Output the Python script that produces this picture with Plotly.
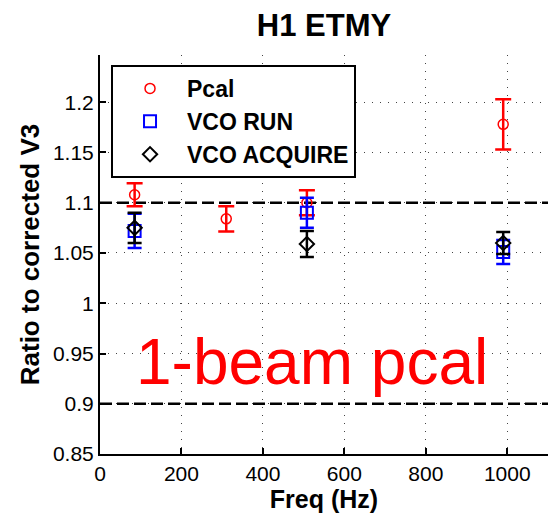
import plotly.graph_objects as go

# Data
freq_pcal = [85, 310, 508, 990]
pcal = [1.108, 1.084, 1.100, 1.178]
pcal_err = [0.0115, 0.0125, 0.0125, 0.025]

freq_vco = [85, 508, 990]
vco_run = [1.072, 1.090, 1.051]
vco_run_err = [0.017, 0.015, 0.012]

vco_acq = [1.075, 1.059, 1.060]
vco_acq_err = [0.015, 0.013, 0.011]

ref_x = [0, 1100]
ref_hi = [1.1, 1.1]
ref_lo = [0.9, 0.9]

x_ticks = [0, 200, 400, 600, 800, 1000]
y_ticks = [0.85, 0.9, 0.95, 1.0, 1.05, 1.1, 1.15, 1.2]
y_ticklabels = ["0.85", "0.9", "0.95", "1", "1.05", "1.1", "1.15", "1.2"]

FONT = "Liberation Sans, Arial, Helvetica, sans-serif"

fig = go.Figure()

for yy in (ref_hi, ref_lo):
    fig.add_trace(go.Scatter(x=ref_x, y=yy, mode="lines", showlegend=False,
                             line=dict(color="black", width=2.5, dash="12px,5px"),
                             hoverinfo="skip"))

fig.add_trace(go.Scatter(
    x=freq_pcal, y=pcal, mode="markers", name="Pcal",
    marker=dict(symbol="circle-open", size=10, color="red", line=dict(width=1.5, color="red")),
    error_y=dict(type="data", array=pcal_err, color="red", thickness=2.5, width=8)))

fig.add_trace(go.Scatter(
    x=freq_vco, y=vco_run, mode="markers", name="VCO RUN",
    marker=dict(symbol="square-open", size=12, color="blue", line=dict(width=2, color="blue")),
    error_y=dict(type="data", array=vco_run_err, color="blue", thickness=2.5, width=7)))

fig.add_trace(go.Scatter(
    x=freq_vco, y=vco_acq, mode="markers", name="VCO ACQUIRE",
    marker=dict(symbol="diamond-open", size=11, color="black", line=dict(width=2, color="black")),
    error_y=dict(type="data", array=vco_acq_err, color="black", thickness=2.5, width=7)))

fig.add_annotation(x=521, y=0.9415, xref="x", yref="y", text="1-beam pcal",
                   showarrow=False, font=dict(family=FONT, size=64, color="red"),
                   xanchor="center", yanchor="middle")

fig.update_layout(
    width=548, height=516,
    margin=dict(l=100, r=0, t=55, b=62),
    paper_bgcolor="white", plot_bgcolor="white",
    font=dict(family=FONT, color="black"),
    title=dict(text="<b>H1 ETMY</b>", x=0.5, xref="paper", y=1 - 25 / 516, yref="container",
               xanchor="center", yanchor="middle", font=dict(size=31, family=FONT, color="black")),
    showlegend=True,
    legend=dict(x=0.0246, y=0.975, xanchor="left", yanchor="top",
                bordercolor="black", borderwidth=2, bgcolor="white",
                font=dict(family=FONT, size=23, color="black", weight="bold"),
                itemwidth=64, tracegroupgap=0),
)

fig.update_xaxes(range=[0, 1100], tickvals=x_ticks, ticks="inside", ticklen=6, tickwidth=1.5,
                 tickcolor="black", showline=True, linecolor="black", linewidth=2,
                 showgrid=True, gridcolor="#444", gridwidth=1, griddash="1px,7px",
                 zeroline=False, tickfont=dict(size=21, family=FONT, color="black"),
                 title=dict(text="<b>Freq (Hz)</b>", font=dict(size=25, family=FONT, color="black"),
                            standoff=4))
fig.update_yaxes(range=[0.85, 1.247], tickvals=y_ticks, ticktext=y_ticklabels, ticks="inside",
                 ticklen=6, tickwidth=1.5, tickcolor="black", showline=True, linecolor="black",
                 linewidth=2, showgrid=True, gridcolor="#444", gridwidth=1, griddash="1px,7px",
                 zeroline=False, tickfont=dict(size=21, family=FONT, color="black"),
                 title=dict(text="<b>Ratio to corrected V3</b>", font=dict(size=26, family=FONT, color="black"),
                            standoff=6))

fig.write_html("out.html")
